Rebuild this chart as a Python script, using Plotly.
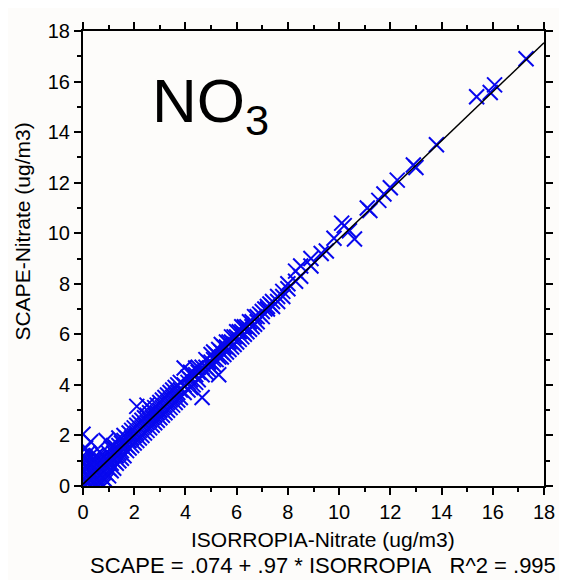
import plotly.graph_objects as go

# ISORROPIA-Nitrate (x) vs SCAPE-Nitrate (y), ug/m3
x_isorropia = [
    0.0, 0.0, 0.0, 0.0, 0.0, 0.0,
    0.1, 0.1, 0.1, 0.1, 0.1, 0.1,
    0.2, 0.2, 0.2, 0.2, 0.2,
    0.3, 0.3, 0.3, 0.3, 0.3, 0.3,
    0.4, 0.4, 0.4, 0.4,
    0.5, 0.5, 0.5, 0.5, 0.5,
    0.6, 0.6, 0.6, 0.6,
    0.7, 0.7, 0.7, 0.7, 0.7,
    0.8, 0.8, 0.8, 0.8, 0.8,
    0.9, 0.9, 0.9, 0.9, 0.9,
    1.0, 1.0, 1.0, 1.0,
    1.1, 1.1, 1.1, 1.1,
    1.2, 1.2, 1.2, 1.2,
    1.3, 1.3, 1.3,
    1.4, 1.4, 1.4, 1.4,
    1.5, 1.5, 1.5,
    1.6, 1.6, 1.6, 1.6,
    1.7, 1.7, 1.7,
    1.8, 1.8, 1.8,
    1.9, 1.9, 1.9,
    2.0, 2.0, 2.0,
    2.1, 2.1, 2.1, 2.1,
    2.2, 2.2, 2.2,
    2.3, 2.3, 2.3,
    2.4, 2.4, 2.4,
    2.5, 2.5, 2.5, 2.5,
    2.6, 2.6, 2.6,
    2.7, 2.7, 2.7,
    2.8, 2.8, 2.8,
    2.9, 2.9, 2.9,
    3.0, 3.0, 3.0,
    3.1, 3.1, 3.1,
    3.2, 3.2, 3.2,
    3.3, 3.3, 3.3,
    3.4, 3.4, 3.4,
    3.5, 3.5, 3.5,
    3.6, 3.6, 3.6,
    3.7, 3.7, 3.7,
    3.8, 3.8, 3.8,
    3.95, 3.95, 3.95,
    4.1, 4.1, 4.1,
    4.2, 4.2, 4.2,
    4.3, 4.3,
    4.4, 4.4, 4.4,
    4.5, 4.5, 4.5,
    4.65, 4.65, 4.65,
    4.8, 4.8, 4.8,
    4.9, 4.9,
    5.0, 5.0, 5.0,
    5.1, 5.1, 5.1,
    5.2, 5.2,
    5.3, 5.3, 5.3,
    5.4, 5.4, 5.4,
    5.5, 5.5,
    5.6, 5.6, 5.6,
    5.7, 5.7,
    5.8, 5.8, 5.8,
    5.9, 5.9,
    6.0, 6.0, 6.0,
    6.1, 6.1,
    6.2, 6.2, 6.2,
    6.3, 6.3,
    6.4, 6.4,
    6.5, 6.5,
    6.6, 6.6,
    6.7, 6.7,
    6.8, 6.8,
    6.9,
    7.0, 7.0,
    7.1,
    7.2, 7.2,
    7.3,
    7.4, 7.4,
    7.6, 7.6,
    7.8, 7.8,
    8.0, 8.0,
    8.3, 8.3,
    8.5, 8.5,
    8.9, 8.9,
    9.3, 9.5, 9.8,
    10.1, 10.2, 10.4, 10.6,
    11.1, 11.2, 11.55, 11.75,
    12.0, 12.27, 12.9, 13.0,
    13.8, 15.37, 15.9, 16.07, 17.3,
]
y_scape = [
    0.0, 0.3, 0.6, 0.9, 1.2, 2.05,
    0.0, 0.2, 0.5, 0.8, 1.1, 1.5,
    0.1, 0.4, 0.7, 1.0, 1.3,
    0.0, 0.3, 0.6, 0.9, 1.2, 1.75,
    0.1, 0.4, 0.7, 1.0,
    0.0, 0.3, 0.6, 0.9, 1.2,
    0.2, 0.5, 0.8, 1.1,
    0.1, 0.4, 0.7, 1.0, 1.3,
    0.0, 0.3, 0.6, 0.9, 1.2,
    0.2, 0.5, 0.8, 1.1, 1.8,
    0.4, 0.7, 1.0, 1.3,
    0.6, 0.9, 1.2, 1.5,
    0.7, 1.0, 1.3, 1.6,
    0.9, 1.2, 1.5,
    1.0, 1.3, 1.6, 1.9,
    1.1, 1.4, 1.7,
    1.2, 1.5, 1.8, 2.0,
    1.4, 1.6, 1.9,
    1.5, 1.8, 2.1,
    1.6, 1.9, 2.2,
    1.7, 2.0, 2.3,
    1.8, 2.1, 2.4, 3.15,
    1.9, 2.2, 2.5,
    2.0, 2.3, 2.6,
    2.1, 2.4, 2.7,
    2.2, 2.5, 2.8, 3.2,
    2.3, 2.6, 2.9,
    2.4, 2.7, 3.0,
    2.5, 2.8, 3.1,
    2.6, 2.9, 3.2,
    2.7, 3.0, 3.3,
    2.8, 3.1, 3.4,
    2.9, 3.2, 3.5,
    3.0, 3.3, 3.6,
    3.1, 3.4, 3.7,
    3.2, 3.5, 3.8,
    3.3, 3.6, 3.9,
    3.4, 3.7, 4.0,
    3.5, 3.8, 4.1,
    3.7, 4.0, 4.67,
    3.8, 4.1, 4.3,
    3.9, 4.2, 4.5,
    4.0, 4.4,
    4.1, 4.4, 4.67,
    4.2, 4.5, 4.7,
    3.5, 4.4, 4.7,
    4.5, 4.7, 5.0,
    4.6, 4.9,
    4.7, 4.9, 5.2,
    4.8, 5.0, 5.3,
    5.0, 5.2,
    4.4, 5.1, 5.4,
    5.1, 5.3, 5.6,
    5.2, 5.5,
    5.3, 5.5, 5.7,
    5.4, 5.7,
    5.5, 5.7, 5.9,
    5.6, 5.9,
    5.7, 5.9, 6.1,
    5.8, 6.1,
    5.9, 6.1, 6.3,
    6.0, 6.3,
    6.1, 6.3,
    6.2, 6.5,
    6.3, 6.5,
    6.4, 6.7,
    6.5, 6.7,
    6.8,
    6.7, 6.9,
    7.0,
    7.0, 7.1,
    7.2,
    7.1, 7.3,
    7.3, 7.5,
    7.5, 7.7,
    7.8, 8.0,
    8.1, 8.5,
    8.3, 8.7,
    8.7, 9.0,
    9.2, 9.3, 9.8,
    10.4, 10.3, 10.1, 9.77,
    11.0, 10.9, 11.3, 11.55,
    11.8, 12.1, 12.7, 12.6,
    13.5, 15.4, 15.57, 15.87, 16.9,
]

# Regression: SCAPE = .074 + .97 * ISORROPIA
intercept = 0.074
slope = 0.97
fit_x = [0, 18]
fit_y = [intercept + slope * v for v in fit_x]

tick_vals = [0, 2, 4, 6, 8, 10, 12, 14, 16, 18]
tick_text = ["0", "2", "4", "6", "8", "10", "12", "14", "16", "18"]

FONT = "Liberation Sans, Arial, sans-serif"
BG = "#fdfcfa"

# figure is drawn 8px in from the page corner (browser body margin)
W, H = 559, 572
l, r, t, b = 75, 20, 12, 94
pw, ph = W - l - r, H - t - b


def px_to_paper(px, py):
    # px, py: page pixel coordinates
    fx, fy = px - 8, py - 8
    return (fx - l) / pw, (H - b - fy) / ph


fig = go.Figure()
fig.add_trace(go.Scatter(
    x=x_isorropia, y=y_scape, mode="markers",
    marker=dict(symbol="x-thin-open", size=15, color="#0808ee",
                line=dict(color="#0808ee", width=2)),
    showlegend=False, hoverinfo="x+y",
))
fig.add_trace(go.Scatter(
    x=fit_x, y=fit_y, mode="lines",
    line=dict(color="black", width=1.5),
    showlegend=False, hoverinfo="skip",
))

axis_common = dict(
    range=[0, 18], tickvals=tick_vals, ticktext=tick_text,
    showgrid=False, zeroline=False,
    showline=True, linecolor="black", linewidth=2, mirror="ticks",
    ticks="outside", ticklen=7, tickwidth=2, tickcolor="black",
    minor=dict(ticks="outside", ticklen=4, tickwidth=2, tickcolor="black", dtick=1, showgrid=False),
    tickfont=dict(family=FONT, size=20, color="black"),
)

no3 = px_to_paper(150, 96)
xt = px_to_paper(325, 541)
eq = px_to_paper(325, 567)
yt = px_to_paper(22, 225)

fig.update_layout(
    width=W, height=H,
    margin=dict(l=l, r=r, t=t, b=b),
    paper_bgcolor=BG, plot_bgcolor=BG,
    xaxis=dict(axis_common),
    yaxis=dict(axis_common),
    annotations=[
        dict(text="NO<sub>3</sub>", x=no3[0], y=no3[1], xref="paper", yref="paper",
             xanchor="left", yanchor="middle", showarrow=False,
             font=dict(family=FONT, size=62, color="black")),
        dict(text="ISORROPIA-Nitrate (ug/m3)", x=xt[0], y=xt[1], xref="paper", yref="paper",
             xanchor="center", yanchor="middle", showarrow=False,
             font=dict(family=FONT, size=21, color="black")),
        dict(text="SCAPE = .074 + .97 * ISORROPIA\u00a0\u00a0\u00a0R^2 = .995",
             x=eq[0], y=eq[1], xref="paper", yref="paper",
             xanchor="center", yanchor="middle", showarrow=False,
             font=dict(family=FONT, size=22, color="black")),
        dict(text="SCAPE-Nitrate (ug/m3)", x=yt[0], y=yt[1], xref="paper", yref="paper",
             xanchor="center", yanchor="middle", textangle=-90, showarrow=False,
             font=dict(family=FONT, size=21, color="black")),
    ],
)

fig.write_html("out.html")
